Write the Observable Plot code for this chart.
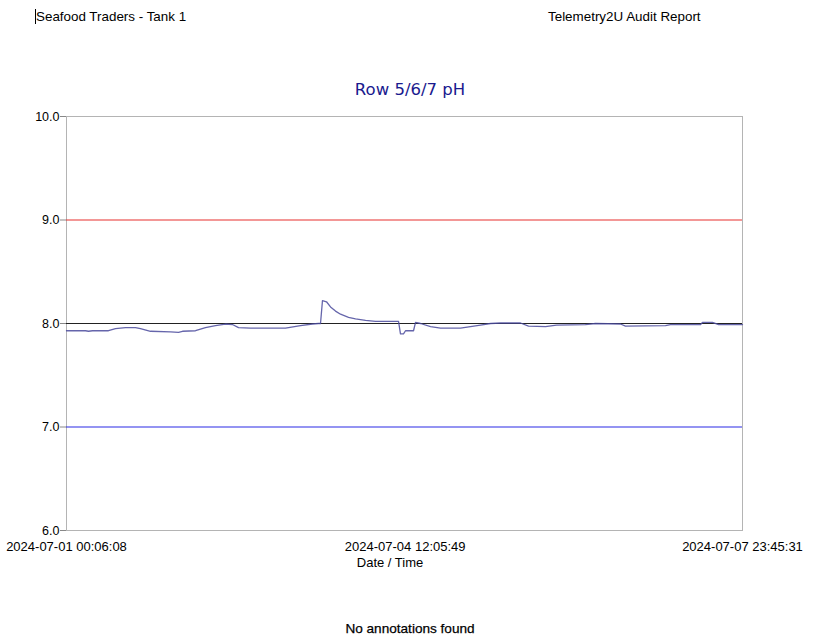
<!DOCTYPE html>
<html>
<head>
<meta charset="utf-8">
<script src="https://cdn.jsdelivr.net/npm/d3@7"></script>
<script src="https://cdn.jsdelivr.net/npm/@observablehq/plot@0.6"></script>
<style>
  html, body { margin: 0; padding: 0; background: #fff; }
  body { width: 820px; height: 638px; position: relative; overflow: hidden; font-family: "Liberation Sans", Arial, sans-serif; }
  .t { position: absolute; white-space: nowrap; color: #000; }
  #chart { position: absolute; left: 0; top: 0; }
</style>
</head>
<body>
<div class="t" style="left:35px; top:9px; font-size:13.4px; border-left:1px solid #000;">Seafood Traders - Tank 1</div>
<div class="t" style="left:548px; top:9px; font-size:13.4px;">Telemetry2U Audit Report</div>
<div class="t" style="left:0; width:820px; text-align:center; top:80px; font-size:16.5px; color:#1a1a8e; font-family:'DejaVu Sans', sans-serif;">Row 5/6/7 pH</div>
<div class="t" style="left:0; width:780px; text-align:center; top:555px; font-size:13px;">Date / Time</div>
<div class="t" style="left:0; width:820px; text-align:center; top:621px; font-size:13.6px; -webkit-text-stroke:0.25px #000;">No annotations found</div>
<div id="chart"></div>
<script>
// Sensor readings (timestamp, pH)
const times = [
  "2024-07-01T00:06:08","2024-07-01T04:49","2024-07-01T05:34","2024-07-01T06:33","2024-07-01T10:31",
  "2024-07-01T12:15","2024-07-01T14:44","2024-07-01T17:13","2024-07-01T18:27","2024-07-01T20:56",
  "2024-07-02T01:53","2024-07-02T03:53","2024-07-02T04:52","2024-07-02T08:06","2024-07-02T10:34",
  "2024-07-02T13:03","2024-07-02T15:32","2024-07-02T17:16","2024-07-02T18:46","2024-07-02T21:44",
  "2024-07-03T06:25","2024-07-03T10:08","2024-07-03T13:07","2024-07-03T14:36","2024-07-03T15:06",
  "2024-07-03T15:35","2024-07-03T16:35","2024-07-03T17:35","2024-07-03T18:49","2024-07-03T20:04",
  "2024-07-03T22:03","2024-07-03T23:47","2024-07-04T02:16","2024-07-04T04:45","2024-07-04T08:28",
  "2024-07-04T10:27","2024-07-04T10:56","2024-07-04T11:41","2024-07-04T12:11","2024-07-04T14:10",
  "2024-07-04T14:40","2024-07-04T15:54","2024-07-04T18:23","2024-07-04T20:52","2024-07-05T01:49",
  "2024-07-05T04:18","2024-07-05T06:47","2024-07-05T09:16","2024-07-05T11:44","2024-07-05T16:42",
  "2024-07-05T18:41","2024-07-05T22:54","2024-07-06T01:38","2024-07-06T08:49","2024-07-06T11:18",
  "2024-07-06T17:30","2024-07-06T18:44","2024-07-07T04:40","2024-07-07T05:54","2024-07-07T13:21",
  "2024-07-07T13:50","2024-07-07T16:19","2024-07-07T17:49","2024-07-07T23:45:31"
];
const phValues = [
  7.93,7.93,7.925,7.93,7.93,
  7.95,7.96,7.96,7.95,7.925,
  7.92,7.915,7.925,7.93,7.96,
  7.98,7.995,7.99,7.96,7.955,
  7.955,7.98,7.995,8.0,8.0,
  8.22,8.21,8.16,8.12,8.09,
  8.06,8.045,8.03,8.02,8.02,
  8.02,7.90,7.90,7.93,7.93,
  8.01,8.0,7.97,7.955,7.955,
  7.97,7.985,8.0,8.005,8.005,
  7.975,7.97,7.985,7.99,8.0,
  7.995,7.975,7.98,7.99,7.99,
  8.01,8.01,7.99,7.99
];
// Reference limits
const limitValues = [9.0, 8.0, 7.0];
const limitColors = ["#e8312f", "#222222", "#2a2ae6"];
// Axis ticks
const yTicks = [6, 7, 8, 9, 10];
const xTicks = ["2024-07-01T00:06:08", "2024-07-04T12:05:49", "2024-07-07T23:45:31"];

const data = times.map((t, i) => ({ t: new Date(t), v: phValues[i] }));
const limits = limitValues.map((v, i) => ({ v, c: limitColors[i] }));
const fmt = d3.utcFormat("%Y-%m-%d %H:%M:%S");

const chart = Plot.plot({
  width: 820,
  height: 638,
  marginLeft: 66,
  marginRight: 78,
  marginTop: 116,
  marginBottom: 108,
  style: { fontFamily: "'Liberation Sans', Arial, sans-serif", fontSize: "13px", color: "#000", background: "transparent" },
  x: { type: "utc", domain: [new Date(xTicks[0]), new Date(xTicks[2])] },
  y: { domain: [6, 10] },
  marks: [
    Plot.frame({ stroke: "#b4b4b4" }),
    Plot.ruleY(limits, { y: "v", stroke: "c", strokeWidth: 1.1 }),
    Plot.line(data, { x: "t", y: "v", stroke: "#4a4a9c", strokeWidth: 1.3, strokeOpacity: 0.85 }),
    Plot.axisY({ ticks: yTicks, tickFormat: d3.format(".1f"), tickSize: 6, tickPadding: 1, stroke: "#888", fill: "#000", label: null, fontSize: 12.5 }),
    Plot.axisX({ ticks: xTicks.map(d => new Date(d)), tickFormat: fmt, tickSize: 0, tickPadding: 11, label: null, fontSize: 13 })
  ]
});
document.getElementById("chart").appendChild(chart);
</script>
</body>
</html>
